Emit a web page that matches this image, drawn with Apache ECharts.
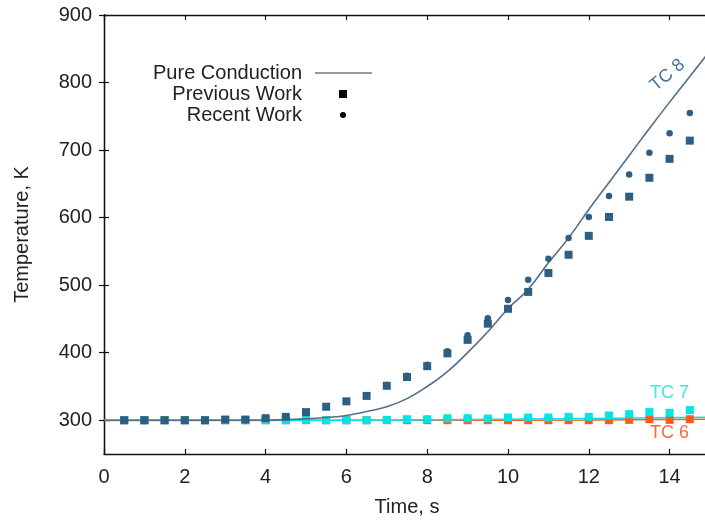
<!DOCTYPE html>
<html>
<head>
<meta charset="utf-8">
<script src="https://cdn.jsdelivr.net/npm/echarts@6/dist/echarts.min.js"></script>
<style>
  html, body { margin: 0; padding: 0; background: #fff; }
  #chart { width: 705px; height: 525px; }
</style>
</head>
<body>
<div id="chart"></div>
<script>
// Measurement times (s) for the thermocouple readings
const times = [0.5, 1, 1.5, 2, 2.5, 3, 3.5, 4, 4.5, 5, 5.5, 6, 6.5, 7, 7.5,
               8, 8.5, 9, 9.5, 10, 10.5, 11, 11.5, 12, 12.5, 13, 13.5, 14, 14.5];

// TC 8 temperatures (K)
const tc8Previous = [300, 300, 300, 300, 300, 301, 301, 303, 305, 312, 320, 328, 336, 351, 364,
                     380, 399, 419, 443, 465, 490, 518, 545, 573, 601, 631, 659, 687, 714];
const tc8Recent   = [300, 300, 300, 300, 300, 301, 301, 303, 305, 312, 320, 328, 337, 352, 366,
                     382, 402, 426, 451, 478, 508, 539, 570, 601, 632, 664, 696, 725, 755];

// TC 7 and TC 6 temperatures (K), previous work
const tc7Previous = [300, 300, 300, 300, 300, 300, 300, 300, 300, 300.5, 300, 300, 300, 300.5, 301.5,
                     301.5, 303, 303, 302.5, 304, 304, 304, 305, 305, 307, 309, 312, 311, 315];
const tc6Previous = [300, 300, 300, 300, 300, 300, 300, 300, 300, 300, 300, 300, 300, 300, 300,
                     300, 300, 300, 300, 300, 300, 300, 300, 300, 300, 300.5, 301.5, 300.5, 301.5];

// Pure conduction solutions: [time, temperature]
const tc8ConductionT = [0, 1, 2, 3, 4, 4.5, 5, 5.5, 6, 6.5, 7, 7.5, 8, 8.5, 9, 9.5, 10,
                        10.5, 11, 11.5, 12, 12.5, 13, 13.5, 14, 14.5, 15];
const tc8ConductionK = [300, 300, 300, 300, 300, 301, 302, 304, 307, 313, 320, 332, 350, 372, 400, 431, 465,
                        494, 533, 570, 612, 652, 692, 732, 771, 809, 847];
const tc7ConductionT = [0, 6, 9, 12, 15];
const tc7ConductionK = [300, 300, 301, 302.5, 304.5];
const tc6ConductionT = [0, 8, 12, 15];
const tc6ConductionK = [299.5, 299.8, 300.5, 301.5];

// Axis ticks
const xTicks = [0, 2, 4, 6, 8, 10, 12, 14];
const yTicks = [300, 400, 500, 600, 700, 800, 900];

const C_TC8_LINE = '#4f6f8a';
const C_TC8_MARK = '#2e5f82';
const C_TC7 = '#00e6e6';
const C_TC6 = '#ff5a1c';
const FONT = 'Liberation Sans, Arial, sans-serif';
const TEXT = '#222';

const pairs = (xs, ys) => xs.map((x, i) => [x, ys[i]]);

const chart = echarts.init(document.getElementById('chart'), null, { renderer: 'canvas' });

const axisCommon = {
  axisLine: { show: true, lineStyle: { color: '#111', width: 1.3 } },
  axisTick: { inside: true, length: 5, lineStyle: { color: '#111', width: 1.2 } },
  splitLine: { show: false }
};

const legendFont = { fontSize: 20, fontFamily: FONT, fill: TEXT, align: 'right', verticalAlign: 'middle' };

chart.setOption({
  animation: false,
  backgroundColor: '#fff',
  textStyle: { fontFamily: FONT },
  grid: { left: 104, top: 15, width: 606, height: 439, containLabel: false, outerBoundsMode: 'none' },
  xAxis: [
    Object.assign({}, axisCommon, {
      type: 'value', min: 0, max: 15, interval: 1, position: 'bottom',
      name: 'Time, s', nameLocation: 'middle', nameGap: 43,
      nameTextStyle: { fontSize: 20, color: TEXT, fontFamily: FONT },
      axisTick: Object.assign({}, axisCommon.axisTick, { customValues: xTicks }),
      axisLabel: { customValues: xTicks, fontSize: 20, color: TEXT, margin: 13, fontFamily: FONT }
    }),
    Object.assign({}, axisCommon, {
      type: 'value', min: 0, max: 15, interval: 1, position: 'top',
      axisTick: Object.assign({}, axisCommon.axisTick, { customValues: xTicks }),
      axisLabel: { show: false }
    })
  ],
  yAxis: [
    Object.assign({}, axisCommon, {
      type: 'value', min: 250, max: 900, interval: 50, position: 'left',
      name: 'Temperature, K', nameLocation: 'middle', nameGap: 72, nameRotate: 90,
      nameTextStyle: { fontSize: 20, color: TEXT, fontFamily: FONT },
      axisTick: Object.assign({}, axisCommon.axisTick, { customValues: yTicks }),
      axisLabel: { customValues: yTicks, fontSize: 20, color: TEXT, margin: 12, fontFamily: FONT }
    }),
    Object.assign({}, axisCommon, {
      type: 'value', min: 250, max: 900, interval: 50, position: 'right',
      axisTick: Object.assign({}, axisCommon.axisTick, { customValues: yTicks }),
      axisLabel: { show: false }
    })
  ],
  series: [
    {
      name: 'Pure Conduction TC 6', type: 'line', smooth: true, showSymbol: false, symbol: 'none',
      data: pairs(tc6ConductionT, tc6ConductionK), z: 2,
      lineStyle: { color: C_TC6, width: 1.5 },
      markPoint: {
        symbol: 'circle', symbolSize: 0, silent: true,
        data: [{ coord: [14.0, 281], label: { show: true, formatter: 'TC 6', color: '#ff6a3c', fontSize: 18, fontFamily: FONT } }]
      }
    },
    {
      name: 'Pure Conduction TC 7', type: 'line', smooth: true, showSymbol: false, symbol: 'none',
      data: pairs(tc7ConductionT, tc7ConductionK), z: 3,
      lineStyle: { color: C_TC7, width: 1.5 },
      markPoint: {
        symbol: 'circle', symbolSize: 0, silent: true,
        data: [{ coord: [14.0, 340], label: { show: true, formatter: 'TC 7', color: '#3ee6e6', fontSize: 18, fontFamily: FONT } }]
      }
    },
    {
      name: 'Previous Work TC 6', type: 'scatter', symbol: 'rect', symbolSize: 8, z: 4,
      data: pairs(times, tc6Previous), itemStyle: { color: C_TC6, opacity: 1 }
    },
    {
      name: 'Previous Work TC 7', type: 'scatter', symbol: 'rect', symbolSize: 8, z: 5,
      data: pairs(times, tc7Previous), itemStyle: { color: C_TC7, opacity: 1 }
    },
    {
      name: 'Pure Conduction', type: 'line', smooth: true, showSymbol: false, symbol: 'none',
      data: pairs(tc8ConductionT, tc8ConductionK), z: 6,
      lineStyle: { color: C_TC8_LINE, width: 1.6 },
      markPoint: {
        symbol: 'circle', symbolSize: 0, silent: true,
        data: [{ coord: [13.95, 811], label: { show: true, formatter: 'TC 8', rotate: 40, color: '#44729a', fontSize: 18, fontFamily: FONT } }]
      }
    },
    {
      name: 'Recent Work', type: 'scatter', symbol: 'circle', symbolSize: 6.5, z: 7,
      data: pairs(times, tc8Recent), itemStyle: { color: C_TC8_MARK, opacity: 1 }
    },
    {
      name: 'Previous Work', type: 'scatter', symbol: 'rect', symbolSize: 8, z: 8,
      data: pairs(times, tc8Previous), itemStyle: { color: C_TC8_MARK, opacity: 1 }
    }
  ],
  // Key for the line and marker styles
  graphic: [
    { type: 'text', x: 302, y: 73, silent: true, style: Object.assign({ text: 'Pure Conduction' }, legendFont) },
    { type: 'text', x: 302, y: 94, silent: true, style: Object.assign({ text: 'Previous Work' }, legendFont) },
    { type: 'text', x: 302, y: 115, silent: true, style: Object.assign({ text: 'Recent Work' }, legendFont) },
    { type: 'line', silent: true, shape: { x1: 315, y1: 73, x2: 372, y2: 73 }, style: { stroke: '#777', lineWidth: 1.6 } },
    { type: 'rect', silent: true, shape: { x: 339, y: 90, width: 8, height: 8 }, style: { fill: '#000' } },
    { type: 'circle', silent: true, shape: { cx: 343, cy: 115, r: 3 }, style: { fill: '#000' } }
  ]
});
</script>
</body>
</html>
